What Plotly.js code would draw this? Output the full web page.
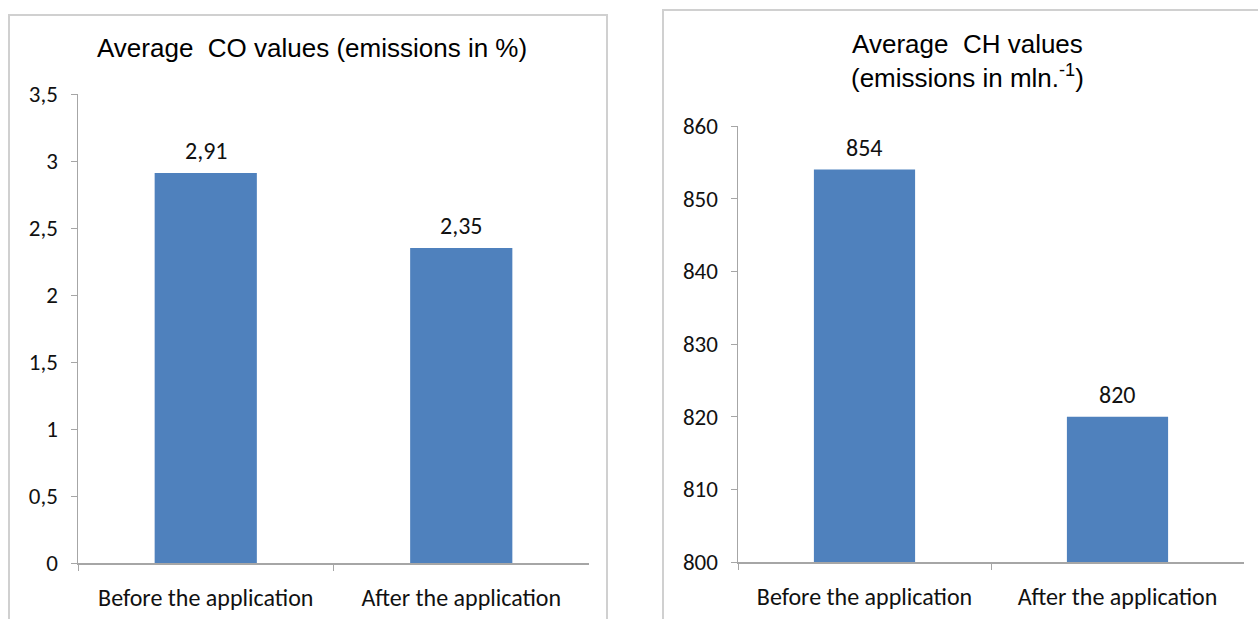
<!DOCTYPE html>
<html>
<head>
<meta charset="utf-8">
<script src="https://cdn.plot.ly/plotly-3.0.1.min.js"></script>
<style>html,body{margin:0;padding:0;background:#fff;}#chart{width:1258px;height:619px;}</style>
</head>
<body>
<div id="chart"></div>
<script>
const categories = ["Before the application", "After the application"];
const coValues = [2.91, 2.35];
const chValues = [854, 820];
const coTitle = "Average  CO values (emissions in %)";
const chTitle = "Average  CH values<br>(emissions in mln.<sup>-1</sup>)";

const W = 1258, H = 619;
const px = x => x / W;
const py = y => 1 - y / H;

const fmt = v => String(v).replace('.', ',');
const FAM = "Carlito, Calibri, 'Liberation Sans Narrow', 'Liberation Sans', Arial, sans-serif";
const yTickFont = {family: FAM, size: 23, color: "#111"};
const xTickFont = {family: FAM, size: 24, color: "#111"};
const labelFont = {family: FAM, size: 24, color: "#111"};
const titleFont = {family: "'Liberation Sans', Arial, sans-serif", size: 26, color: "#000"};
const barColor = "#4f81bd";
const axisColor = "#a6a6a6";

const traces = [
  {type: "bar", x: categories, y: coValues, xaxis: "x", yaxis: "y", marker: {color: barColor}, width: 0.4, hoverinfo: "skip"},
  {type: "bar", x: categories, y: chValues, xaxis: "x2", yaxis: "y2", marker: {color: barColor}, width: 0.4, hoverinfo: "skip"}
];

const xCommon = {
  type: "category", showline: true, linecolor: axisColor, linewidth: 1.5,
  ticks: "outside", tickson: "boundaries", ticklen: 6, tickcolor: axisColor,
  tickfont: xTickFont, showgrid: false, zeroline: false, fixedrange: true, ticklabelstandoff: 13
};
const yCommon = {
  showline: true, linecolor: axisColor, linewidth: 1.5,
  ticks: "outside", ticklen: 6, tickcolor: axisColor,
  tickfont: yTickFont, showgrid: false, zeroline: false, fixedrange: true, ticklabelstandoff: 8
};

const annotations = [];
categories.forEach((c, i) => {
  annotations.push({xref: "x", yref: "y", x: c, y: coValues[i], text: fmt(coValues[i]), showarrow: false,
    yanchor: "bottom", yshift: 6, font: labelFont});
  annotations.push({xref: "x2", yref: "y2", x: c, y: chValues[i], text: fmt(chValues[i]), showarrow: false,
    yanchor: "bottom", yshift: 6, font: labelFont});
});
annotations.push({xref: "paper", yref: "paper", x: px(312), y: py(48), text: coTitle, showarrow: false,
  xanchor: "center", yanchor: "middle", font: titleFont});
annotations.push({xref: "paper", yref: "paper", x: px(967), y: py(61), text: chTitle, showarrow: false,
  xanchor: "center", yanchor: "middle", font: titleFont});

const layout = {
  width: W, height: H,
  margin: {l: 0, r: 0, t: 0, b: 0},
  paper_bgcolor: "#fff", plot_bgcolor: "rgba(0,0,0,0)",
  showlegend: false,
  separators: ",.",
  xaxis: Object.assign({}, xCommon, {domain: [px(78), px(589)], anchor: "y"}),
  yaxis: Object.assign({}, yCommon, {domain: [py(563), py(94)], range: [0, 3.5], dtick: 0.5, tick0: 0, anchor: "x"}),
  xaxis2: Object.assign({}, xCommon, {domain: [px(738), px(1244)], anchor: "y2"}),
  yaxis2: Object.assign({}, yCommon, {domain: [py(562), py(126)], range: [800, 860], dtick: 10, tick0: 800, anchor: "x2"}),
  annotations: annotations,
  shapes: [
    {type: "rect", xref: "paper", yref: "paper", x0: px(9), x1: px(607), y0: py(640), y1: py(15),
      line: {color: "#d0d0d0", width: 2}, fillcolor: "rgba(0,0,0,0)", layer: "below"},
    {type: "rect", xref: "paper", yref: "paper", x0: px(663), x1: px(1270), y0: py(640), y1: py(10),
      line: {color: "#d0d0d0", width: 2}, fillcolor: "rgba(0,0,0,0)", layer: "below"}
  ]
};

Plotly.newPlot("chart", traces, layout, {displayModeBar: false, staticPlot: true});
</script>
</body>
</html>
